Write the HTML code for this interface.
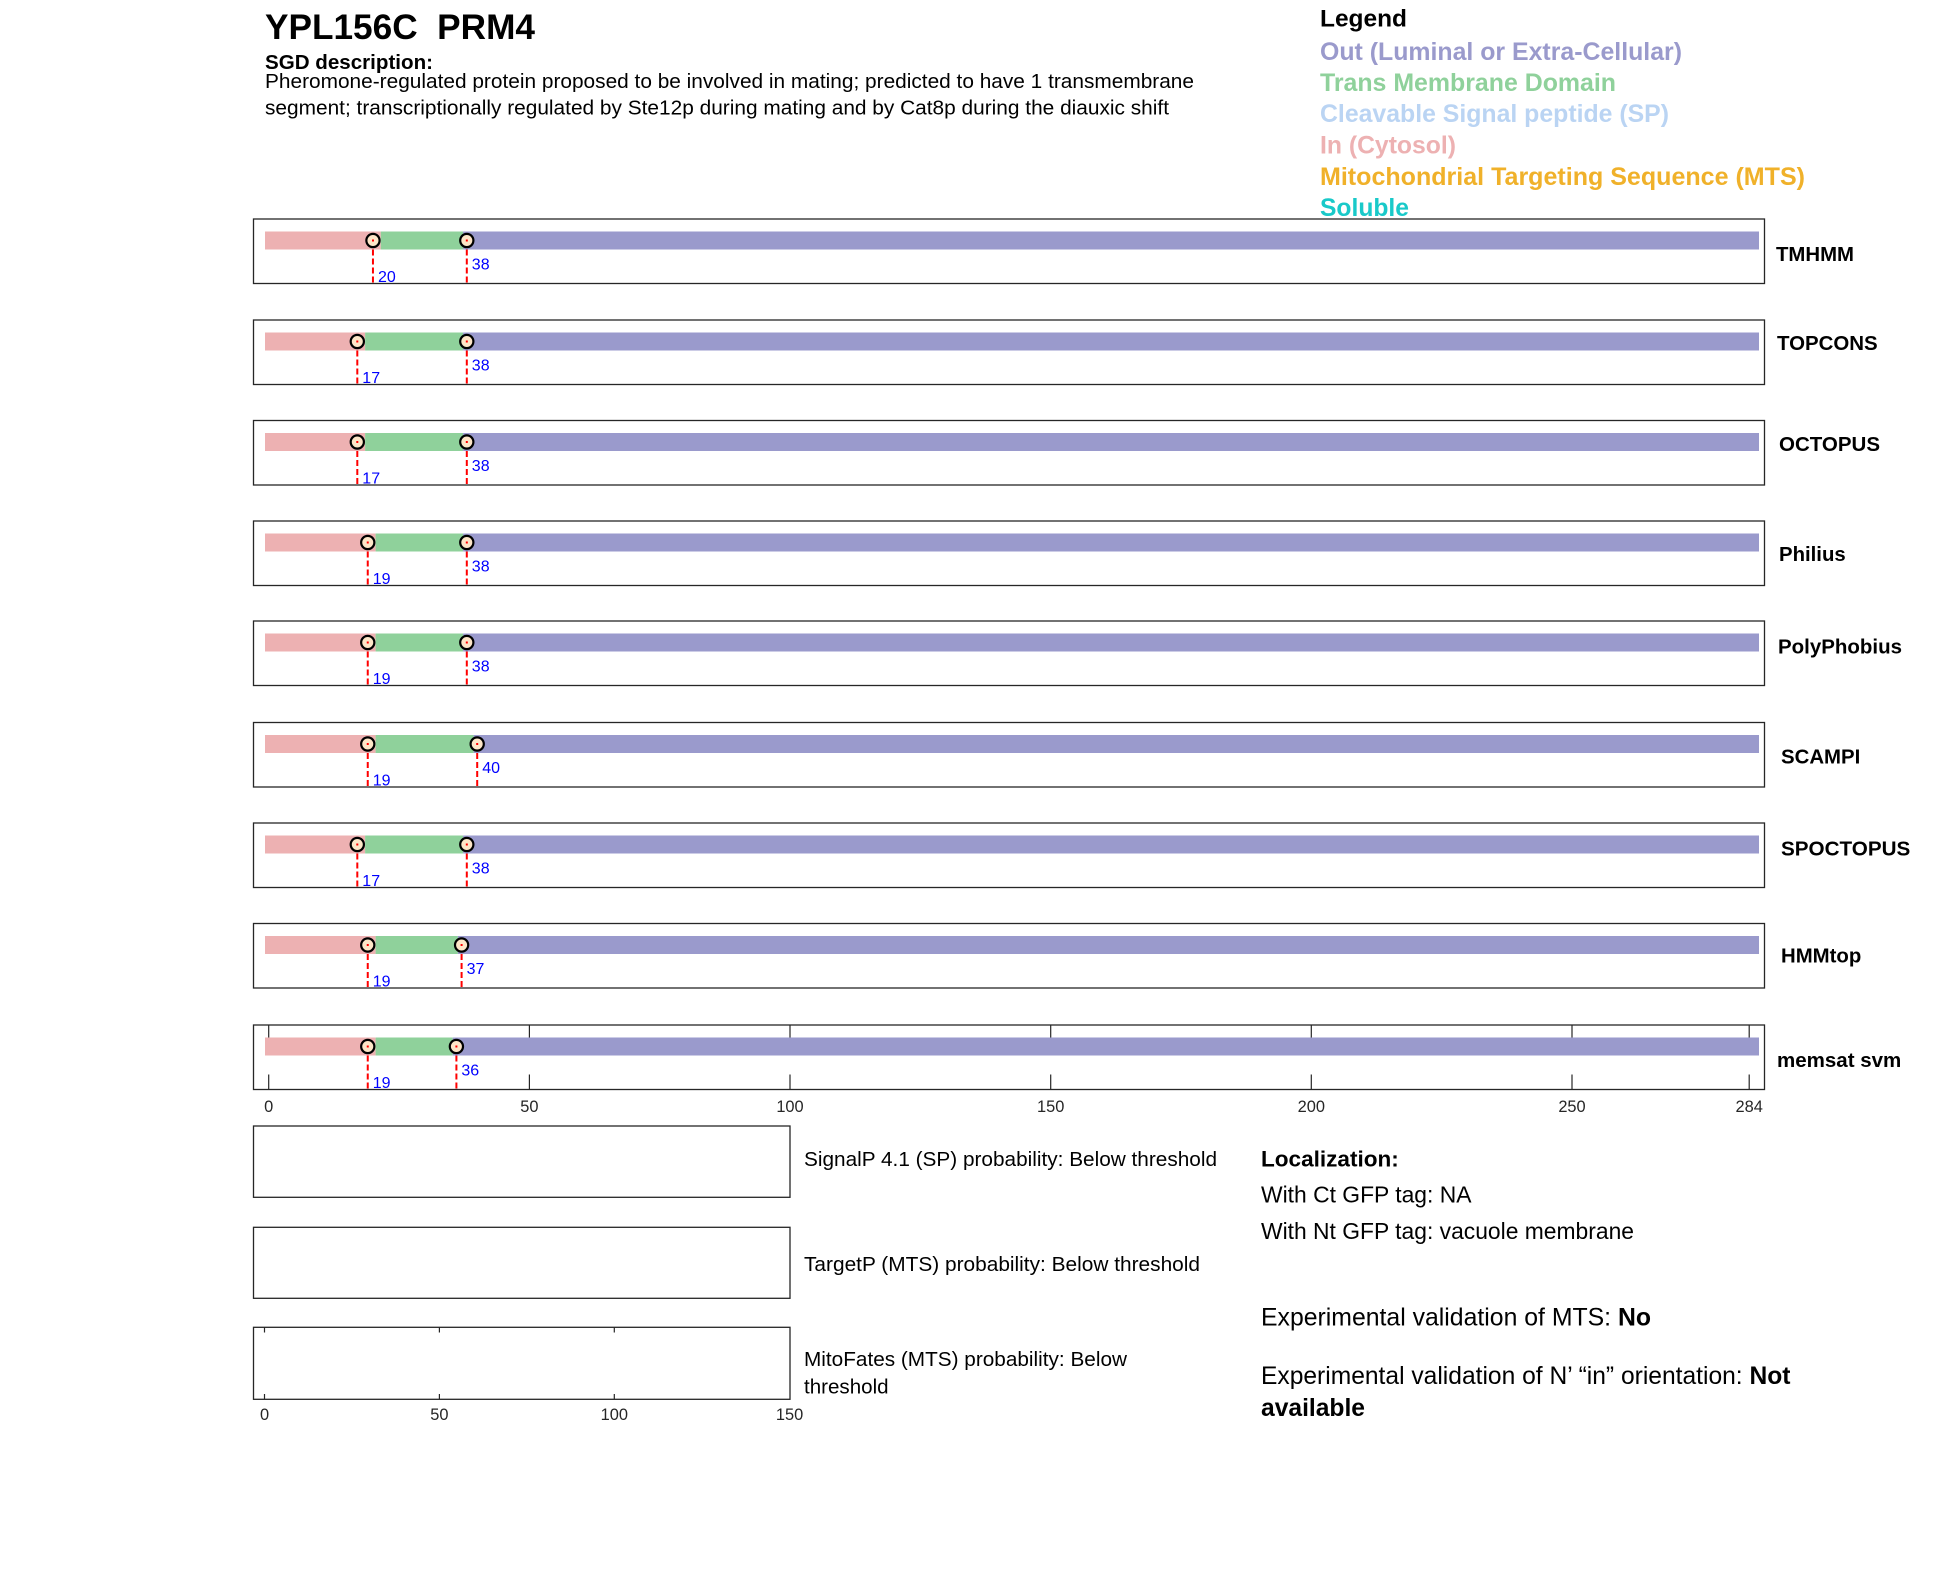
<!DOCTYPE html>
<html>
<head>
<meta charset="utf-8">
<style>
html,body{margin:0;padding:0;background:#fff;}
svg{display:block;}
text{font-family:"Liberation Sans",Arial,sans-serif;}
circle{stroke-width:2.2;}
</style>
</head>
<body>
<svg width="1950" height="1573" viewBox="0 0 1950 1573" xmlns="http://www.w3.org/2000/svg">
<rect width="1950" height="1573" fill="#fff"/>

<!-- Header -->
<text x="265" y="39" font-size="35" font-weight="bold" fill="#000" textLength="270" lengthAdjust="spacingAndGlyphs" xml:space="preserve">YPL156C  PRM4</text>
<text x="265" y="69" font-size="20.6" font-weight="bold" fill="#000" textLength="168" lengthAdjust="spacingAndGlyphs">SGD description:</text>
<text x="265" y="88" font-size="20.5" fill="#000" textLength="929" lengthAdjust="spacingAndGlyphs">Pheromone-regulated protein proposed to be involved in mating; predicted to have 1 transmembrane</text>
<text x="265" y="114.5" font-size="20.5" fill="#000" textLength="904" lengthAdjust="spacingAndGlyphs">segment; transcriptionally regulated by Ste12p during mating and by Cat8p during the diauxic shift</text>

<!-- Legend -->
<text x="1320" y="26.7" font-size="24.5" font-weight="bold" fill="#000" textLength="87" lengthAdjust="spacingAndGlyphs">Legend</text>
<text x="1320" y="60" font-size="25" font-weight="bold" fill="#9A9ACC" textLength="362" lengthAdjust="spacingAndGlyphs">Out (Luminal or Extra-Cellular)</text>
<text x="1320" y="91" font-size="25" font-weight="bold" fill="#8FD19B" textLength="296" lengthAdjust="spacingAndGlyphs">Trans Membrane Domain</text>
<text x="1320" y="122" font-size="25" font-weight="bold" fill="#BAD4F3" textLength="349" lengthAdjust="spacingAndGlyphs">Cleavable Signal peptide (SP)</text>
<text x="1320" y="153.5" font-size="25" font-weight="bold" fill="#EDB1B2" textLength="136" lengthAdjust="spacingAndGlyphs">In (Cytosol)</text>
<text x="1320" y="185" font-size="25" font-weight="bold" fill="#F0B12A" textLength="485" lengthAdjust="spacingAndGlyphs">Mitochondrial Targeting Sequence (MTS)</text>
<text x="1320" y="216" font-size="25" font-weight="bold" fill="#19C9C9" textLength="89" lengthAdjust="spacingAndGlyphs">Soluble</text>

<!-- axis ticks for last track (drawn before bars) -->
<g stroke="#262626" stroke-width="1.2">
  <line x1="268.7" y1="1025" x2="268.7" y2="1038"/><line x1="268.7" y1="1089.5" x2="268.7" y2="1074.5"/>
  <line x1="529.4" y1="1025" x2="529.4" y2="1038"/><line x1="529.4" y1="1089.5" x2="529.4" y2="1074.5"/>
  <line x1="790" y1="1025" x2="790" y2="1038"/><line x1="790" y1="1089.5" x2="790" y2="1074.5"/>
  <line x1="1050.7" y1="1025" x2="1050.7" y2="1038"/><line x1="1050.7" y1="1089.5" x2="1050.7" y2="1074.5"/>
  <line x1="1311.3" y1="1025" x2="1311.3" y2="1038"/><line x1="1311.3" y1="1089.5" x2="1311.3" y2="1074.5"/>
  <line x1="1572" y1="1025" x2="1572" y2="1038"/><line x1="1572" y1="1089.5" x2="1572" y2="1074.5"/>
  <line x1="1749.2" y1="1025" x2="1749.2" y2="1038"/><line x1="1749.2" y1="1089.5" x2="1749.2" y2="1074.5"/>
</g>

<!-- Tracks -->
<g id="tracks">
<!-- 1 TMHMM -->
<rect x="253.5" y="219" width="1511" height="64.5" fill="none" stroke="#262626" stroke-width="1.3"/>
<rect x="265" y="231.5" width="115.8" height="18" fill="#EDB1B2"/>
<rect x="380.8" y="231.5" width="82.3" height="18" fill="#8FD19B"/>
<rect x="463.1" y="231.5" width="1295.9" height="18" fill="#9A9ACC"/>
<line x1="372.96" y1="240.5" x2="372.96" y2="283.5" stroke="#FF0000" stroke-width="2" stroke-dasharray="6,3"/>
<line x1="466.8" y1="240.5" x2="466.8" y2="283.5" stroke="#FF0000" stroke-width="2" stroke-dasharray="6,3"/>
<circle cx="372.96" cy="240.5" r="6.6" fill="#FDE6C8" stroke="#000"/>
<circle cx="466.8" cy="240.5" r="6.6" fill="#FDE6C8" stroke="#000"/>
<rect x="372" y="239.5" width="2" height="2" fill="#F00"/><rect x="465.8" y="239.5" width="2" height="2" fill="#F00"/>
<text x="378" y="282" font-size="16" fill="#0000FF">20</text>
<text x="471.8" y="269.5" font-size="16" fill="#0000FF">38</text>
<text x="1776" y="261" font-size="20.4" font-weight="bold" fill="#000" textLength="78" lengthAdjust="spacingAndGlyphs">TMHMM</text>

<!-- 2 TOPCONS -->
<rect x="253.5" y="320" width="1511" height="64.5" fill="none" stroke="#262626" stroke-width="1.3"/>
<rect x="265" y="332.5" width="100.1" height="18" fill="#EDB1B2"/>
<rect x="365.1" y="332.5" width="98" height="18" fill="#8FD19B"/>
<rect x="463.1" y="332.5" width="1295.9" height="18" fill="#9A9ACC"/>
<line x1="357.3" y1="341.5" x2="357.3" y2="384.5" stroke="#FF0000" stroke-width="2" stroke-dasharray="6,3"/>
<line x1="466.8" y1="341.5" x2="466.8" y2="384.5" stroke="#FF0000" stroke-width="2" stroke-dasharray="6,3"/>
<circle cx="357.3" cy="341.5" r="6.6" fill="#FDE6C8" stroke="#000"/>
<circle cx="466.8" cy="341.5" r="6.6" fill="#FDE6C8" stroke="#000"/>
<rect x="356.3" y="340.5" width="2" height="2" fill="#F00"/><rect x="465.8" y="340.5" width="2" height="2" fill="#F00"/>
<text x="362.3" y="383" font-size="16" fill="#0000FF">17</text>
<text x="471.8" y="370.5" font-size="16" fill="#0000FF">38</text>
<text x="1777" y="350" font-size="20.4" font-weight="bold" fill="#000" textLength="100.7" lengthAdjust="spacingAndGlyphs">TOPCONS</text>

<!-- 3 OCTOPUS -->
<rect x="253.5" y="420.5" width="1511" height="64.5" fill="none" stroke="#262626" stroke-width="1.3"/>
<rect x="265" y="433" width="100.1" height="18" fill="#EDB1B2"/>
<rect x="365.1" y="433" width="98" height="18" fill="#8FD19B"/>
<rect x="463.1" y="433" width="1295.9" height="18" fill="#9A9ACC"/>
<line x1="357.3" y1="442" x2="357.3" y2="485" stroke="#FF0000" stroke-width="2" stroke-dasharray="6,3"/>
<line x1="466.8" y1="442" x2="466.8" y2="485" stroke="#FF0000" stroke-width="2" stroke-dasharray="6,3"/>
<circle cx="357.3" cy="442" r="6.6" fill="#FDE6C8" stroke="#000"/>
<circle cx="466.8" cy="442" r="6.6" fill="#FDE6C8" stroke="#000"/>
<rect x="356.3" y="441" width="2" height="2" fill="#F00"/><rect x="465.8" y="441" width="2" height="2" fill="#F00"/>
<text x="362.3" y="483.5" font-size="16" fill="#0000FF">17</text>
<text x="471.8" y="471" font-size="16" fill="#0000FF">38</text>
<text x="1779" y="451" font-size="20.4" font-weight="bold" fill="#000" textLength="101" lengthAdjust="spacingAndGlyphs">OCTOPUS</text>

<!-- 4 Philius -->
<rect x="253.5" y="521" width="1511" height="64.5" fill="none" stroke="#262626" stroke-width="1.3"/>
<rect x="265" y="533.5" width="110.6" height="18" fill="#EDB1B2"/>
<rect x="375.6" y="533.5" width="87.5" height="18" fill="#8FD19B"/>
<rect x="463.1" y="533.5" width="1295.9" height="18" fill="#9A9ACC"/>
<line x1="367.75" y1="542.5" x2="367.75" y2="585.5" stroke="#FF0000" stroke-width="2" stroke-dasharray="6,3"/>
<line x1="466.8" y1="542.5" x2="466.8" y2="585.5" stroke="#FF0000" stroke-width="2" stroke-dasharray="6,3"/>
<circle cx="367.75" cy="542.5" r="6.6" fill="#FDE6C8" stroke="#000"/>
<circle cx="466.8" cy="542.5" r="6.6" fill="#FDE6C8" stroke="#000"/>
<rect x="366.75" y="541.5" width="2" height="2" fill="#F00"/><rect x="465.8" y="541.5" width="2" height="2" fill="#F00"/>
<text x="372.75" y="584" font-size="16" fill="#0000FF">19</text>
<text x="471.8" y="571.5" font-size="16" fill="#0000FF">38</text>
<text x="1779" y="561" font-size="20.4" font-weight="bold" fill="#000" textLength="66.7" lengthAdjust="spacingAndGlyphs">Philius</text>

<!-- 5 PolyPhobius -->
<rect x="253.5" y="621" width="1511" height="64.5" fill="none" stroke="#262626" stroke-width="1.3"/>
<rect x="265" y="633.5" width="110.6" height="18" fill="#EDB1B2"/>
<rect x="375.6" y="633.5" width="87.5" height="18" fill="#8FD19B"/>
<rect x="463.1" y="633.5" width="1295.9" height="18" fill="#9A9ACC"/>
<line x1="367.75" y1="642.5" x2="367.75" y2="685.5" stroke="#FF0000" stroke-width="2" stroke-dasharray="6,3"/>
<line x1="466.8" y1="642.5" x2="466.8" y2="685.5" stroke="#FF0000" stroke-width="2" stroke-dasharray="6,3"/>
<circle cx="367.75" cy="642.5" r="6.6" fill="#FDE6C8" stroke="#000"/>
<circle cx="466.8" cy="642.5" r="6.6" fill="#FDE6C8" stroke="#000"/>
<rect x="366.75" y="641.5" width="2" height="2" fill="#F00"/><rect x="465.8" y="641.5" width="2" height="2" fill="#F00"/>
<text x="372.75" y="684" font-size="16" fill="#0000FF">19</text>
<text x="471.8" y="671.5" font-size="16" fill="#0000FF">38</text>
<text x="1778" y="653.5" font-size="20.4" font-weight="bold" fill="#000" textLength="124" lengthAdjust="spacingAndGlyphs">PolyPhobius</text>

<!-- 6 SCAMPI -->
<rect x="253.5" y="722.5" width="1511" height="64.5" fill="none" stroke="#262626" stroke-width="1.3"/>
<rect x="265" y="735" width="110.6" height="18" fill="#EDB1B2"/>
<rect x="375.6" y="735" width="98" height="18" fill="#8FD19B"/>
<rect x="473.6" y="735" width="1285.4" height="18" fill="#9A9ACC"/>
<line x1="367.75" y1="744" x2="367.75" y2="787" stroke="#FF0000" stroke-width="2" stroke-dasharray="6,3"/>
<line x1="477.2" y1="744" x2="477.2" y2="787" stroke="#FF0000" stroke-width="2" stroke-dasharray="6,3"/>
<circle cx="367.75" cy="744" r="6.6" fill="#FDE6C8" stroke="#000"/>
<circle cx="477.2" cy="744" r="6.6" fill="#FDE6C8" stroke="#000"/>
<rect x="366.75" y="743" width="2" height="2" fill="#F00"/><rect x="476.2" y="743" width="2" height="2" fill="#F00"/>
<text x="372.75" y="785.5" font-size="16" fill="#0000FF">19</text>
<text x="482.2" y="773" font-size="16" fill="#0000FF">40</text>
<text x="1781" y="763.5" font-size="20.4" font-weight="bold" fill="#000" textLength="79.3" lengthAdjust="spacingAndGlyphs">SCAMPI</text>

<!-- 7 SPOCTOPUS -->
<rect x="253.5" y="823" width="1511" height="64.5" fill="none" stroke="#262626" stroke-width="1.3"/>
<rect x="265" y="835.5" width="100.1" height="18" fill="#EDB1B2"/>
<rect x="365.1" y="835.5" width="98" height="18" fill="#8FD19B"/>
<rect x="463.1" y="835.5" width="1295.9" height="18" fill="#9A9ACC"/>
<line x1="357.3" y1="844.5" x2="357.3" y2="887.5" stroke="#FF0000" stroke-width="2" stroke-dasharray="6,3"/>
<line x1="466.8" y1="844.5" x2="466.8" y2="887.5" stroke="#FF0000" stroke-width="2" stroke-dasharray="6,3"/>
<circle cx="357.3" cy="844.5" r="6.6" fill="#FDE6C8" stroke="#000"/>
<circle cx="466.8" cy="844.5" r="6.6" fill="#FDE6C8" stroke="#000"/>
<rect x="356.3" y="843.5" width="2" height="2" fill="#F00"/><rect x="465.8" y="843.5" width="2" height="2" fill="#F00"/>
<text x="362.3" y="886" font-size="16" fill="#0000FF">17</text>
<text x="471.8" y="873.5" font-size="16" fill="#0000FF">38</text>
<text x="1781" y="855.5" font-size="20.4" font-weight="bold" fill="#000" textLength="129.3" lengthAdjust="spacingAndGlyphs">SPOCTOPUS</text>

<!-- 8 HMMtop -->
<rect x="253.5" y="923.5" width="1511" height="64.5" fill="none" stroke="#262626" stroke-width="1.3"/>
<rect x="265" y="936" width="110.6" height="18" fill="#EDB1B2"/>
<rect x="375.6" y="936" width="82.3" height="18" fill="#8FD19B"/>
<rect x="457.9" y="936" width="1301.1" height="18" fill="#9A9ACC"/>
<line x1="367.75" y1="945" x2="367.75" y2="988" stroke="#FF0000" stroke-width="2" stroke-dasharray="6,3"/>
<line x1="461.6" y1="945" x2="461.6" y2="988" stroke="#FF0000" stroke-width="2" stroke-dasharray="6,3"/>
<circle cx="367.75" cy="945" r="6.6" fill="#FDE6C8" stroke="#000"/>
<circle cx="461.6" cy="945" r="6.6" fill="#FDE6C8" stroke="#000"/>
<rect x="366.75" y="944" width="2" height="2" fill="#F00"/><rect x="460.6" y="944" width="2" height="2" fill="#F00"/>
<text x="372.75" y="986.5" font-size="16" fill="#0000FF">19</text>
<text x="466.6" y="974" font-size="16" fill="#0000FF">37</text>
<text x="1781" y="962.5" font-size="20.4" font-weight="bold" fill="#000" textLength="80.3" lengthAdjust="spacingAndGlyphs">HMMtop</text>

<!-- 9 memsat svm -->
<rect x="253.5" y="1025" width="1511" height="64.5" fill="none" stroke="#262626" stroke-width="1.3"/>
<rect x="265" y="1037.5" width="110.6" height="18" fill="#EDB1B2"/>
<rect x="375.6" y="1037.5" width="77.1" height="18" fill="#8FD19B"/>
<rect x="452.7" y="1037.5" width="1306.3" height="18" fill="#9A9ACC"/>
<line x1="367.75" y1="1046.5" x2="367.75" y2="1089.5" stroke="#FF0000" stroke-width="2" stroke-dasharray="6,3"/>
<line x1="456.4" y1="1046.5" x2="456.4" y2="1089.5" stroke="#FF0000" stroke-width="2" stroke-dasharray="6,3"/>
<circle cx="367.75" cy="1046.5" r="6.6" fill="#FDE6C8" stroke="#000"/>
<circle cx="456.4" cy="1046.5" r="6.6" fill="#FDE6C8" stroke="#000"/>
<rect x="366.75" y="1045.5" width="2" height="2" fill="#F00"/><rect x="455.4" y="1045.5" width="2" height="2" fill="#F00"/>
<text x="372.75" y="1088" font-size="16" fill="#0000FF">19</text>
<text x="461.4" y="1075.5" font-size="16" fill="#0000FF">36</text>
<text x="1777" y="1067" font-size="20.4" font-weight="bold" fill="#000" textLength="124.3" lengthAdjust="spacingAndGlyphs">memsat svm</text>
</g>

<!-- axis labels main -->
<g font-size="16.4" fill="#262626" text-anchor="middle">
  <text x="268.7" y="1112">0</text>
  <text x="529.4" y="1112">50</text>
  <text x="790" y="1112">100</text>
  <text x="1050.7" y="1112">150</text>
  <text x="1311.3" y="1112">200</text>
  <text x="1572" y="1112">250</text>
  <text x="1749.2" y="1112">284</text>
</g>

<!-- Small boxes -->
<rect x="253.5" y="1126" width="536.5" height="71.3" fill="none" stroke="#262626" stroke-width="1.3"/>
<rect x="253.5" y="1227.3" width="536.5" height="71" fill="none" stroke="#262626" stroke-width="1.3"/>
<rect x="253.5" y="1327.3" width="536.5" height="72" fill="none" stroke="#262626" stroke-width="1.3"/>
<g stroke="#262626" stroke-width="1.2">
  <line x1="264.5" y1="1327.3" x2="264.5" y2="1332.5"/><line x1="264.5" y1="1399.3" x2="264.5" y2="1394"/>
  <line x1="439.4" y1="1327.3" x2="439.4" y2="1332.5"/><line x1="439.4" y1="1399.3" x2="439.4" y2="1394"/>
  <line x1="614.3" y1="1327.3" x2="614.3" y2="1332.5"/><line x1="614.3" y1="1399.3" x2="614.3" y2="1394"/>
</g>
<g font-size="16.4" fill="#262626" text-anchor="middle">
  <text x="264.5" y="1420">0</text>
  <text x="439.4" y="1420">50</text>
  <text x="614.3" y="1420">100</text>
  <text x="789.6" y="1420">150</text>
</g>

<text x="804" y="1166" font-size="20.6" fill="#000" textLength="413" lengthAdjust="spacingAndGlyphs">SignalP 4.1 (SP) probability: Below threshold</text>
<text x="804" y="1271" font-size="20.6" fill="#000" textLength="396" lengthAdjust="spacingAndGlyphs">TargetP (MTS) probability: Below threshold</text>
<text x="804" y="1366" font-size="20.6" fill="#000" textLength="323" lengthAdjust="spacingAndGlyphs">MitoFates (MTS) probability: Below</text>
<text x="804" y="1393.3" font-size="20.6" fill="#000" textLength="84.6" lengthAdjust="spacingAndGlyphs">threshold</text>

<!-- Localization -->
<text x="1261" y="1166.7" font-size="22.6" font-weight="bold" fill="#000" textLength="137.8" lengthAdjust="spacingAndGlyphs">Localization:</text>
<text x="1261" y="1202.3" font-size="22.8" fill="#000" textLength="210.5" lengthAdjust="spacingAndGlyphs">With Ct GFP tag: NA</text>
<text x="1261" y="1239" font-size="22.8" fill="#000" textLength="373" lengthAdjust="spacingAndGlyphs">With Nt GFP tag: vacuole membrane</text>
<text x="1261" y="1325.7" font-size="24.8" fill="#000">Experimental validation of MTS: <tspan font-weight="bold">No</tspan></text>
<text x="1261" y="1384" font-size="24.6" fill="#000">Experimental validation of N’ “in” orientation: <tspan font-weight="bold">Not</tspan></text>
<text x="1261" y="1416" font-size="24.6" font-weight="bold" fill="#000" textLength="104" lengthAdjust="spacingAndGlyphs">available</text>
</svg>
</body>
</html>
